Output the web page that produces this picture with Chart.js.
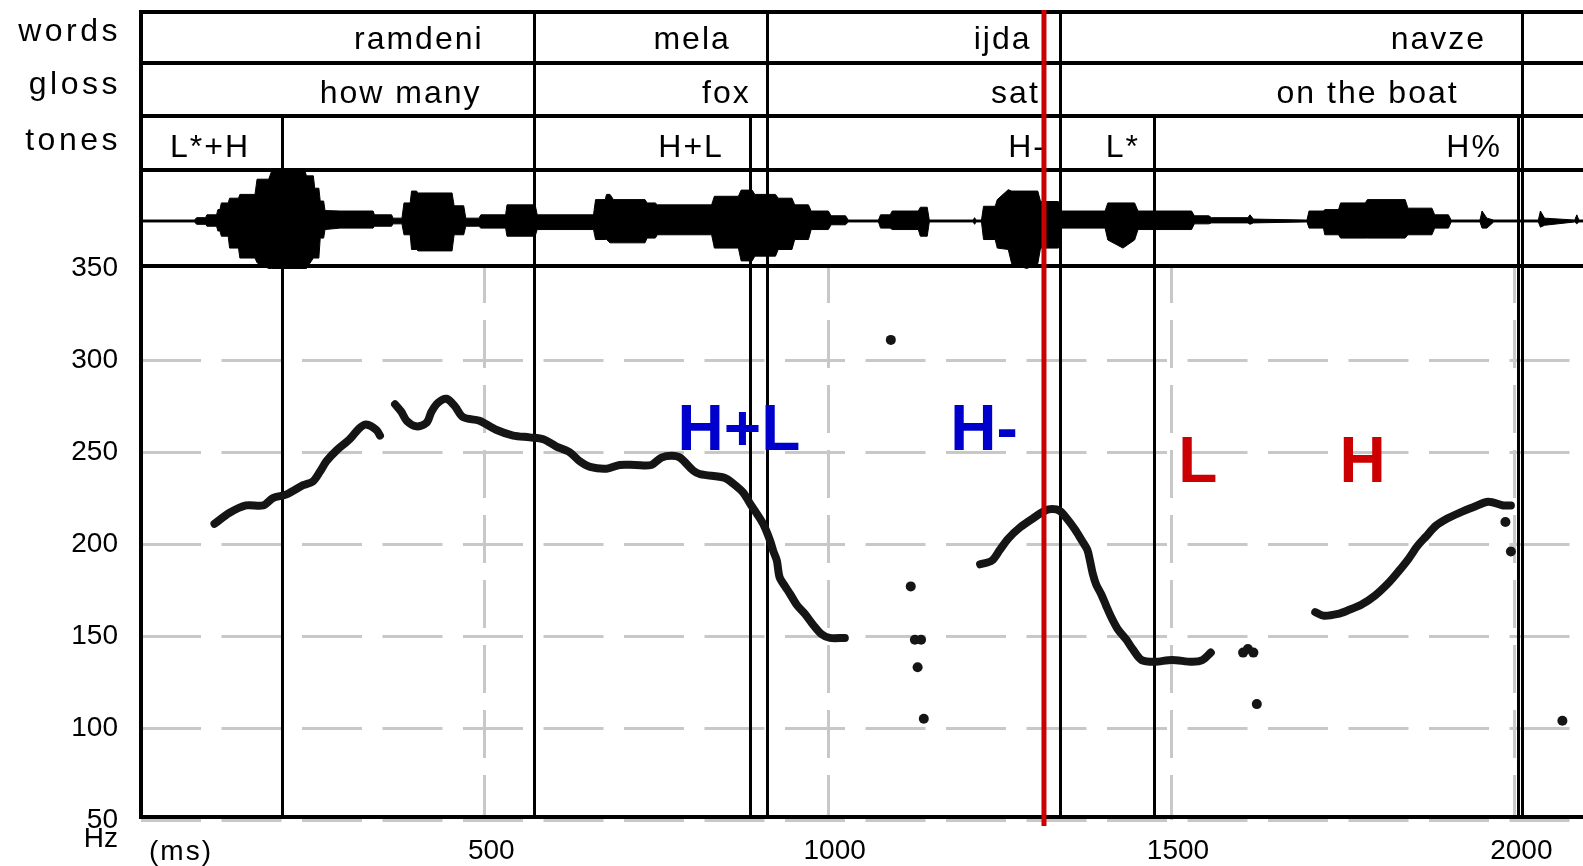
<!DOCTYPE html>
<html>
<head>
<meta charset="utf-8">
<script src="https://cdn.jsdelivr.net/npm/chart.js@4.4.1/dist/chart.umd.min.js"></script>
<style>
html,body{margin:0;padding:0;background:#fff;overflow:hidden}
#c{display:block}
</style>
</head>
<body>
<canvas id="c" width="1583" height="866"></canvas>
<script>
// ---------------- DATA ----------------
// F0 contour (ms, Hz); null separates voiced stretches
const f0Time = [107,129,153,178,192,212,236,250,260,270,285,304,318,328,343,348, 358,
  370,379,387,401,416,423,433,445,457,469,493,518,542,566,586,605,624,639,654,678,697,720,743,758,773,785,804,814,850,862,877,887,896,906,916,921,926,930,938,945,955,967,979,991,1003,1025, 1100,
  1222,1239,1251,1263,1280,1299,1316,1327,1338,1348,1360,1370,1378,1382,1386,1391,1398,1405,1412,1422,1435,1444,1457,1476,1501,1531,1546,1558, 1600,
  1710,1723,1743,1758,1777,1797,1817,1831,1846,1859,1871,1886,1903,1920,1940,1962,1984,1995];
const f0Hz = [211,217,221,221,225,227,232,234,239,245,251,257,263,265,262,259, null,
  276,272,267,264,266,272,277,279,275,269,267,262,259,258,257,253,250,245,242,241,243,243,243,247,248,247,240,238,236,233,228,222,217,211,202,196,191,182,177,173,167,162,156,151,149,149, null,
  189,191,197,203,209,214,218,219,218,214,208,202,197,191,184,178,173,167,161,154,148,143,137,136,137,136,137,141, null,
  163,161,162,164,167,172,179,185,192,199,204,210,214,217,220,223,221,221];
// isolated F0 points
const dotTime = [1092,1121,1127,1136,1131,1140,1605,1612,1620,1625,1987,1995,2070];
const dotHz   = [311,177,148,148,133,105,141,143,141,113,212,196,104];

// waveform envelope: time (ms), upper / lower amplitude (% of full scale)
const waveTime = [0,78,81,94,96,110,112,115,117,127,129,142,144,166,169,186,190,239,241,251,253,259,261,266,268,290,338,340,365,367,380,383,392,394,401,404,453,456,470,473,492,495,531,533,574,577,659,662,676,678,683,688,734,737,749,752,831,835,870,874,890,894,924,928,948,952,972,976,1001,1005,1026,1030,1074,1077,1091,1094,1132,1135,1145,1148,1212,1214,1216,1224,1227,1244,1247,1263,1268,1290,1306,1310,1336,1340,1404,1408,1430,1447,1452,1530,1534,1555,1559,1612,1615,1620,1698,1701,1722,1724,1744,1747,1783,1786,1841,1845,1880,1884,1904,1908,1950,1953,1960,1970,2035,2038,2044,2088,2091,2094,2100];
const waveUpper = [2,2,7,7,13,13,24,24,38,38,48,48,56,56,88,88,104,104,95,95,69,69,42,42,22,21,21,13,13,6,6,38,38,63,63,59,59,32,32,6,6,13,13,34,34,13,13,45,45,56,56,45,45,38,38,34,34,52,52,65,65,56,56,48,48,34,34,21,21,11,11,2,2,13,13,21,21,29,29,2,2,7,2,2,31,31,45,66,63,63,63,41,41,21,21,38,38,38,21,21,11,11,7,7,13,4,2,21,21,24,24,38,38,45,45,27,27,13,13,2,2,21,6,2,2,21,6,2,13,2,2];
const waveLower = [2,2,7,7,11,11,21,21,32,32,57,57,78,78,88,100,100,100,100,78,78,78,36,36,18,15,15,11,11,6,6,29,29,60,60,63,63,29,29,11,11,15,15,32,32,18,18,39,39,39,46,46,46,36,36,29,29,57,57,84,84,74,74,60,60,39,39,18,18,8,8,2,2,15,15,18,18,32,32,2,2,7,2,2,39,39,57,60,90,100,90,57,57,15,15,40,57,40,18,18,6,6,4,4,7,4,2,15,15,29,29,36,36,36,36,29,29,15,15,2,2,15,15,2,2,13,9,2,6,2,2];

// axes
const xTicks = [500, 1000, 1500, 2000];
const yTicks = [50, 100, 150, 200, 250, 300, 350];

// annotation tiers
const tierNames = ['words', 'gloss', 'tones'];
const wordLabels = ['ramdeni', 'mela', 'ijda', 'navze'];
const wordLabelEnd = [496, 856, 1294, 1956];
const glossLabels = ['how many', 'fox', 'sat', 'on the boat'];
const glossLabelEnd = [493, 885, 1306, 1916];
const toneLabels = ['L*+H', 'H+L', 'H-', 'L*', 'H%'];
const toneLabelEnd = [156, 846, 1315, 1452, 1979];
const wordBounds = [573, 911, 1338, 2011];
const toneBounds = [205, 887, 1475, 2005];
const cursorMs = 1315;

// big tone annotations on the plot
const annotTexts = ['H+L', 'H-', 'L', 'H'];
const annotMs = [788, 1185, 1517, 1752];
const annotHz = [251, 251, 234, 234];

// ---------------- STYLE / LAYOUT ----------------
const FONT = '"Liberation Sans", Arial, sans-serif';
const GRID = '#c8c8c8';
const BLUE = '#0000cc';
const RED = '#cc0000';
const ROW_Y = [12, 63, 116, 170, 266];
const TEXT_BASE = [48.5, 102.5, 156.5];
const LABEL_BASE = [40.5, 94, 149.5];
const PLOT_TOP = 266;
const AXIS_Y = 817;

Chart.defaults.font.family = FONT;

const decor = {
  id: 'decor',
  beforeDatasetsDraw(chart) {
    const {ctx, chartArea: a, scales} = chart;
    const xs = scales.x, ys = scales.y;
    ctx.save();
    ctx.strokeStyle = GRID; ctx.lineWidth = 3;
    ctx.setLineDash([60, 20.5]); ctx.lineDashOffset = 0;
    yTicks.filter(v => v <= 300).forEach(v => {
      const py = Math.round(ys.getPixelForValue(v)) + 0.5;
      ctx.beginPath(); ctx.moveTo(a.left, py); ctx.lineTo(a.right, py); ctx.stroke();
    });
    ctx.setLineDash([48, 17]); ctx.lineDashOffset = 11;
    xTicks.forEach(v => {
      const px = Math.round(xs.getPixelForValue(v)) + 0.5;
      ctx.beginPath(); ctx.moveTo(px, PLOT_TOP); ctx.lineTo(px, a.bottom); ctx.stroke();
    });
    ctx.setLineDash([]);
    ctx.strokeStyle = '#000'; ctx.lineWidth = 3;
    const vline = (v, y0, y1) => {
      const px = Math.round(xs.getPixelForValue(v)) + 0.5;
      ctx.beginPath(); ctx.moveTo(px, y0); ctx.lineTo(px, y1); ctx.stroke();
    };
    wordBounds.forEach(v => vline(v, ROW_Y[0], AXIS_Y));
    toneBounds.forEach(v => vline(v, ROW_Y[2], AXIS_Y));
    ctx.restore();
  },
  afterDatasetsDraw(chart) {
    const {ctx, chartArea: a, scales} = chart;
    const xs = scales.x, ys = scales.y;
    ctx.save();
    ctx.strokeStyle = '#000'; ctx.lineWidth = 4;
    ROW_Y.forEach(y => { ctx.beginPath(); ctx.moveTo(a.left - 2, y); ctx.lineTo(a.right, y); ctx.stroke(); });
    ctx.beginPath(); ctx.moveTo(a.left, ROW_Y[0] - 2); ctx.lineTo(a.left, AXIS_Y + 2); ctx.stroke();
    ctx.beginPath(); ctx.moveTo(a.left - 2, AXIS_Y); ctx.lineTo(a.right, AXIS_Y); ctx.stroke();

    ctx.fillStyle = '#000';
    ctx.font = '32px ' + FONT;
    ctx.letterSpacing = '2px';
    ctx.textAlign = 'right'; ctx.textBaseline = 'alphabetic';
    const tiers = [[wordLabels, wordLabelEnd], [glossLabels, glossLabelEnd], [toneLabels, toneLabelEnd]];
    tiers.forEach((t, r) => t[0].forEach((s, i) => ctx.fillText(s, xs.getPixelForValue(t[1][i]) + 2, TEXT_BASE[r])));
    ctx.letterSpacing = '3.5px';
    tierNames.forEach((s, r) => ctx.fillText(s, 121, LABEL_BASE[r]));

    ctx.letterSpacing = '2px';
    ctx.font = '28px ' + FONT;
    ctx.textAlign = 'left'; ctx.textBaseline = 'middle';
    ctx.fillText('(ms)', 149, 852);
    ctx.letterSpacing = '0px';

    ctx.font = 'bold 64px ' + FONT;
    ctx.textBaseline = 'alphabetic'; ctx.textAlign = 'left';
    annotTexts.forEach((s, i) => {
      ctx.fillStyle = i < 2 ? BLUE : RED;
      ctx.fillText(s, xs.getPixelForValue(annotMs[i]) - 4.5, ys.getPixelForValue(annotHz[i]));
    });

    ctx.strokeStyle = RED; ctx.lineWidth = 5;
    const cx = xs.getPixelForValue(cursorMs);
    ctx.beginPath(); ctx.moveTo(cx, 10); ctx.lineTo(cx, 826); ctx.stroke();
    ctx.restore();
  }
};

const pts = (xsArr, ysArr, f) => xsArr.map((t, i) => ({x: t, y: ysArr[i] === null ? null : f(ysArr[i])}));
const noPad = s => { s.paddingTop = 0; s.paddingBottom = 0; s.paddingLeft = 0; s.paddingRight = 0; };

new Chart(document.getElementById('c'), {
  type: 'line',
  data: {
    datasets: [
      { data: pts(waveTime, waveUpper, v => v / 100), yAxisID: 'yw', borderColor: '#000', borderWidth: 1,
        pointRadius: 0, fill: false, tension: 0 },
      { data: pts(waveTime, waveLower, v => -v / 100), yAxisID: 'yw', borderColor: '#000', borderWidth: 1,
        pointRadius: 0, fill: '-1', backgroundColor: '#000', tension: 0 },
      { data: pts(f0Time, f0Hz, v => v), yAxisID: 'y', borderColor: '#151515', borderWidth: 8,
        pointRadius: 0, spanGaps: false, tension: 0.3, borderCapStyle: 'round', borderJoinStyle: 'round', fill: false },
      { data: pts(dotTime, dotHz, v => v), yAxisID: 'y', showLine: false, pointRadius: 5,
        pointBackgroundColor: '#151515', pointBorderWidth: 0, fill: false }
    ]
  },
  options: {
    responsive: false, animation: false, devicePixelRatio: 1, events: [],
    layout: { autoPadding: false, padding: { top: 12, left: 0, right: 0, bottom: 0 } },
    plugins: { legend: { display: false }, tooltip: { enabled: false } },
    scales: {
      x: {
        type: 'linear', min: 0, max: 2100,
        afterBuildTicks: s => { s.ticks = xTicks.map(v => ({ value: v })); },
        afterFit: s => { s.height = 46; noPad(s); },
        grid: { display: false, drawTicks: false }, border: { display: false },
        ticks: { callback: v => String(v), labelOffset: 7, padding: 17, maxRotation: 0, minRotation: 0,
          autoSkip: false, color: '#000', font: { size: 28, lineHeight: '28px' } }
      },
      y: {
        type: 'linear', min: 50, max: 489.25,
        afterBuildTicks: s => { s.ticks = yTicks.map(v => ({ value: v })); },
        afterFit: s => { s.width = 141; noPad(s); },
        grid: { display: false, drawTicks: false }, border: { display: false },
        ticks: { callback: v => v === 50 ? ['', '50', 'Hz'] : String(v), padding: 23, autoSkip: false,
          color: '#000', font: { size: 28, lineHeight: '19px' } }
      },
      yw: { type: 'linear', min: -12.611, max: 4.4, display: false }
    }
  },
  plugins: [decor]
});
</script>
</body>
</html>
